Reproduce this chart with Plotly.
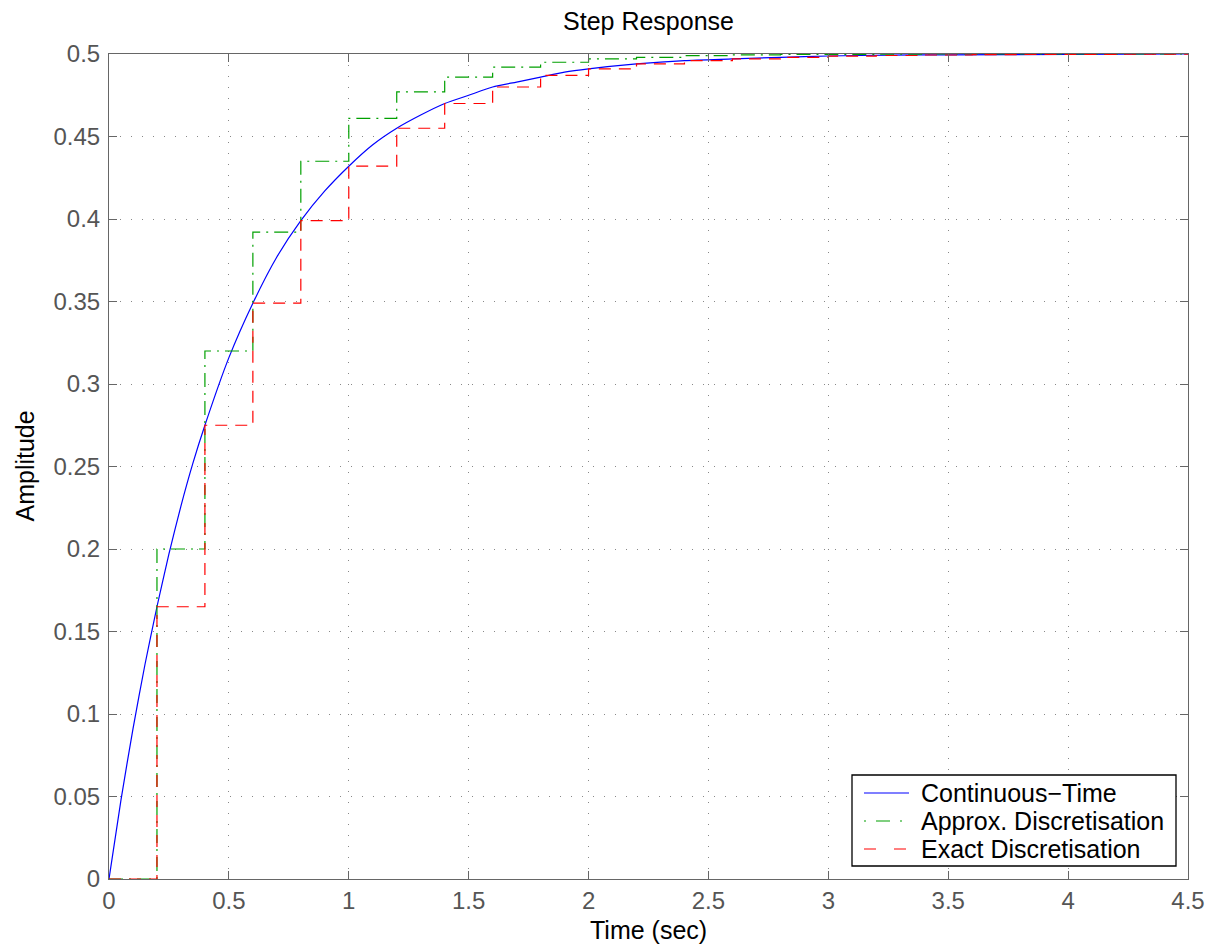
import plotly.graph_objects as go

# Continuous-time step response
t_cont = [0, 0.05, 0.1, 0.15, 0.2, 0.25, 0.3, 0.35, 0.4, 0.5, 0.6, 0.7, 0.8, 0.9, 1.0,
          1.1, 1.2, 1.3, 1.4, 1.5, 1.6, 1.7, 1.8, 1.9, 2.0, 2.2, 2.4, 2.6, 2.8, 3.0,
          3.25, 3.5, 4.0, 4.5]
y_cont = [0, 0.048, 0.091, 0.130, 0.165, 0.197, 0.226, 0.252, 0.275, 0.316, 0.349, 0.377,
          0.399, 0.417, 0.432, 0.445, 0.455, 0.463, 0.470, 0.475, 0.480, 0.483, 0.486,
          0.489, 0.491, 0.494, 0.496, 0.497, 0.498, 0.4988, 0.4993, 0.4995, 0.4998, 0.5]

# Sampled (T = 0.2 s) responses
t_step = [0, 0.2, 0.4, 0.6, 0.8, 1.0, 1.2, 1.4, 1.6, 1.8, 2.0, 2.2, 2.4, 2.6, 2.8,
          3.0, 3.2, 3.4, 3.6, 3.8, 4.0, 4.2, 4.4, 4.5]
y_approx = [0, 0.200, 0.320, 0.392, 0.435, 0.461, 0.477, 0.486, 0.492, 0.495, 0.497,
            0.498, 0.499, 0.4995, 0.4997, 0.4998, 0.4999, 0.5, 0.5, 0.5, 0.5, 0.5, 0.5, 0.5]
y_exact = [0, 0.165, 0.275, 0.349, 0.399, 0.432, 0.455, 0.470, 0.480, 0.487, 0.491,
           0.494, 0.496, 0.497, 0.498, 0.4987, 0.4991, 0.4994, 0.4996, 0.4997, 0.4998,
           0.4999, 0.4999, 0.4999]

series_names = ["Continuous\u2212Time", "Approx. Discretisation", "Exact Discretisation"]

x_ticks = [0, 0.5, 1, 1.5, 2, 2.5, 3, 3.5, 4, 4.5]
x_tick_text = ["0", "0.5", "1", "1.5", "2", "2.5", "3", "3.5", "4", "4.5"]
y_ticks = [0, 0.05, 0.1, 0.15, 0.2, 0.25, 0.3, 0.35, 0.4, 0.45, 0.5]
y_tick_text = ["0", "0.05", "0.1", "0.15", "0.2", "0.25", "0.3", "0.35", "0.4", "0.45", "0.5"]

FONT = "Liberation Sans, Arial, Helvetica, sans-serif"
FS_TICK = 24
FS_TEXT = 25

W, H = 1208, 947
ML, MR, MT, MB = 109, 20, 54, 68
PW = W - ML - MR
PH = H - MT - MB


def px2x(px):
    return (px - ML) / PW


def py2y(py):
    return (H - MB - py) / PH


colors = ["#0000ff", "#00a000", "#ff0000"]
legend_dashes = ["solid", "2px,10px,14px,10px", "12px,18px"]
trace_dashes = ["solid", "14px,6px,2px,6px", "12px,8px"]

fig = go.Figure()
fig.add_trace(go.Scatter(x=t_cont, y=y_cont, mode="lines", name=series_names[0],
                         line=dict(color=colors[0], width=1.2, shape="spline", smoothing=0.6)))
fig.add_trace(go.Scatter(x=t_step, y=y_approx, mode="lines", name=series_names[1],
                         line=dict(color=colors[1], width=1.2, shape="hv", dash=trace_dashes[1])))
fig.add_trace(go.Scatter(x=t_step, y=y_exact, mode="lines", name=series_names[2],
                         line=dict(color=colors[2], width=1.2, shape="hv", dash=trace_dashes[2])))

axis_common = dict(
    showline=True, linecolor="#666666", linewidth=1, mirror="ticks",
    ticks="inside", ticklen=8, tickcolor="#666666", tickwidth=1,
    showgrid=True, gridcolor="#888888", gridwidth=1, griddash="1px,10px",
    zeroline=False, automargin=False,
    tickfont=dict(family=FONT, size=FS_TICK, color="#555555"),
)

fig.update_xaxes(range=[0, 4.5], tickvals=x_ticks, ticktext=x_tick_text, **axis_common)
fig.update_yaxes(range=[0, 0.5], tickvals=y_ticks, ticktext=y_tick_text,
                 ticklabelstandoff=3, **axis_common)

# Legend drawn as a box with line samples and texts (MATLAB style)
shapes = [dict(type="rect", xref="paper", yref="paper",
               x0=px2x(852), x1=px2x(1176), y0=py2y(866), y1=py2y(775),
               line=dict(color="#000000", width=1.3), fillcolor="white", layer="above")]
annotations = []
rows = [793, 821, 849]
for name, col, dsh, ry in zip(series_names, colors, legend_dashes, rows):
    shapes.append(dict(type="line", xref="paper", yref="paper",
                       x0=px2x(864), x1=px2x(909), y0=py2y(ry), y1=py2y(ry),
                       line=dict(color=col, width=1.2, dash=dsh), layer="above"))
    annotations.append(dict(text=name, xref="paper", yref="paper", x=px2x(919), y=py2y(ry),
                            xanchor="left", yanchor="middle", showarrow=False,
                            font=dict(family=FONT, size=FS_TEXT, color="#000000")))

annotations += [
    dict(text="Time (sec)", xref="paper", yref="paper", x=0.5, y=py2y(930),
         xanchor="center", yanchor="middle", showarrow=False,
         font=dict(family=FONT, size=FS_TEXT, color="#000000")),
    dict(text="Amplitude", xref="paper", yref="paper", x=px2x(24), y=0.5,
         xanchor="center", yanchor="middle", textangle=-90,
         showarrow=False, font=dict(family=FONT, size=FS_TEXT, color="#000000")),
]

fig.update_layout(
    width=W, height=H,
    margin=dict(l=ML, r=MR, t=MT, b=MB, autoexpand=False),
    paper_bgcolor="white", plot_bgcolor="white",
    title=dict(text="Step Response", x=0.5, xref="paper", xanchor="center",
               y=1 - 21 / H, yref="container", yanchor="middle",
               font=dict(family=FONT, size=FS_TEXT, color="#000000")),
    showlegend=False,
    shapes=shapes,
    annotations=annotations,
)

fig.write_html("out.html", config={"displayModeBar": False},
               post_script="document.body.style.margin='0';document.body.style.overflow='hidden';")
